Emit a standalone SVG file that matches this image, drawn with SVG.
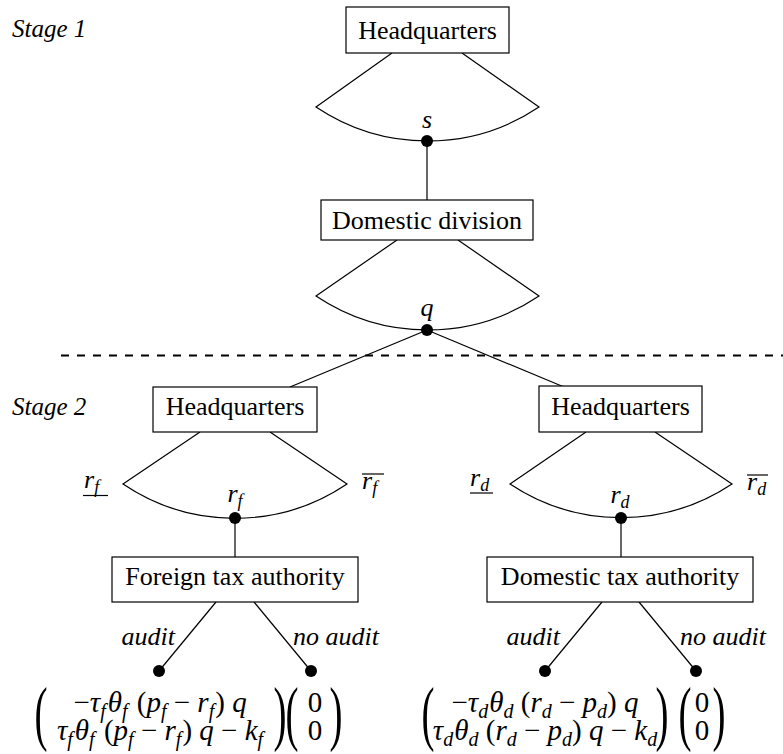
<svg xmlns="http://www.w3.org/2000/svg" width="783" height="754" viewBox="0 0 783 754">
<style>
  .box rect { fill: #fff; stroke: #000; stroke-width: 1.2; }
  .box text { font-size: 26px; text-anchor: middle; fill: #000; }
  .ln { stroke: #000; stroke-width: 1.2; fill: none; }
  .dot { fill: #000; }
  .it { font-style: italic; font-size: 26px; fill: #000; }
  .stage { font-style: italic; font-size: 25px; fill: #000; }
  .m { font-style: italic; font-size: 29px; fill: #000; text-anchor: middle; }
  .u { font-style: normal; }
  .s { font-size: 20px; }
  .ls { font-size: 18px; }
  .par { font-size: 71px; fill: #000; text-anchor: middle; }
  .dash { stroke: #000; stroke-width: 1.8; stroke-dasharray: 8 8; }
</style>
<g font-family="'Liberation Serif', 'Times New Roman', 'DejaVu Serif', serif">
<text class="stage" x="12" y="37">Stage 1</text>
<text class="stage" x="12" y="415">Stage 2</text>
<line class="dash" x1="61" y1="355.5" x2="783" y2="355.5"/>

<g id="connectors">
  <path class="ln" d="M392,53 L316,107 A200,200 0 0 0 539,107 L462,53"/>
  <line class="ln" x1="427" y1="141" x2="427" y2="200"/>
  <path class="ln" d="M397,240 L316,296 A200,200 0 0 0 539,296 L458,240"/>
  <line class="ln" x1="427" y1="330" x2="290" y2="387"/>
  <line class="ln" x1="427" y1="330" x2="564" y2="387"/>
  <path class="ln" d="M200,432 L123,484 A200,200 0 0 0 347,484 L270,432"/>
  <path class="ln" d="M586,432 L510,484 A200,200 0 0 0 732,484 L655,432"/>
  <line class="ln" x1="235" y1="518" x2="235" y2="557"/>
  <line class="ln" x1="621" y1="518" x2="621" y2="557"/>
  <line class="ln" x1="216" y1="602" x2="159" y2="671"/>
  <line class="ln" x1="254" y1="602" x2="311" y2="671"/>
  <line class="ln" x1="602" y1="602" x2="545" y2="671"/>
  <line class="ln" x1="639" y1="602" x2="696" y2="671"/>
  <line class="ln" x1="83" y1="495.5" x2="108" y2="495.5"/>
  <line class="ln" x1="362" y1="474" x2="384" y2="474"/>
  <line class="ln" x1="470" y1="493" x2="493" y2="493"/>
  <line class="ln" x1="747" y1="475" x2="768" y2="475"/>
  <text class="it" x="427" y="128" text-anchor="middle">s</text>
  <text class="it" x="427" y="316" text-anchor="middle">q</text>
  <text class="it" x="235" y="502" text-anchor="middle">r<tspan class="ls" dy="5">f</tspan></text>
  <text class="it" x="84" y="488">r<tspan class="ls" dy="5">f</tspan></text>
  <text class="it" x="362" y="489">r<tspan class="ls" dy="5">f</tspan></text>
  <text class="it" x="620" y="503" text-anchor="middle">r<tspan class="ls" dy="5">d</tspan></text>
  <text class="it" x="470" y="486">r<tspan class="ls" dy="5">d</tspan></text>
  <text class="it" x="747" y="490">r<tspan class="ls" dy="5">d</tspan></text>
  <text class="it" x="175" y="645" text-anchor="end">audit</text>
  <text class="it" x="293" y="645">no audit</text>
  <text class="it" x="560" y="645" text-anchor="end">audit</text>
  <text class="it" x="680" y="645">no audit</text>
</g>

<g id="hq1" class="box"><rect x="346" y="7" width="163" height="46"/><text x="427.5" y="39">Headquarters</text></g>
<g id="dd" class="box"><rect x="321" y="200" width="212" height="40"/><text x="427" y="229">Domestic division</text></g>
<g id="hqf" class="box"><rect x="153" y="387" width="164" height="45"/><text x="235" y="415">Headquarters</text></g>
<g id="hqd" class="box"><rect x="539" y="386" width="163" height="46"/><text x="620.5" y="415">Headquarters</text></g>
<g id="fta" class="box"><rect x="112" y="557" width="246" height="45"/><text x="235" y="585">Foreign tax authority</text></g>
<g id="dta" class="box"><rect x="487" y="557" width="266" height="45"/><text x="620" y="585">Domestic tax authority</text></g>

<g id="dots">
  <circle class="dot" cx="427" cy="141" r="6"/>
  <circle class="dot" cx="427" cy="330" r="6"/>
  <circle class="dot" cx="235" cy="518" r="6"/>
  <circle class="dot" cx="621" cy="518" r="6"/>
  <circle class="dot" cx="159" cy="671" r="6"/>
  <circle class="dot" cx="311" cy="671" r="6"/>
  <circle class="dot" cx="545" cy="671" r="6"/>
  <circle class="dot" cx="696" cy="671" r="6"/>
</g>

<g id="payoff-fa">
  <text class="par" transform="translate(41,737) scale(0.55,1)">(</text>
  <text class="par" transform="translate(280,737) scale(0.55,1)">)</text>
  <text class="m" x="160" y="712"><tspan class="u">−</tspan>τ<tspan class="s" dy="6">f</tspan><tspan dx="2" dy="-6">θ</tspan><tspan class="s" dy="6">f</tspan><tspan class="u" dx="2" dy="-6"> (</tspan>p<tspan class="s" dy="6">f</tspan><tspan class="u" dy="-6"> − </tspan>r<tspan class="s" dy="6">f</tspan><tspan class="u" dx="1" dy="-6">) </tspan>q</text>
  <text class="m" x="160" y="740">τ<tspan class="s" dy="6">f</tspan><tspan dx="2" dy="-6">θ</tspan><tspan class="s" dy="6">f</tspan><tspan class="u" dx="2" dy="-6"> (</tspan>p<tspan class="s" dy="6">f</tspan><tspan class="u" dy="-6"> − </tspan>r<tspan class="s" dy="6">f</tspan><tspan class="u" dx="1" dy="-6">) </tspan>q<tspan class="u"> − </tspan>k<tspan class="s" dy="6">f</tspan></text>
</g>
<g id="payoff-fn">
  <text class="par" transform="translate(292,737) scale(0.55,1)">(</text>
  <text class="par" transform="translate(336,737) scale(0.55,1)">)</text>
  <text class="m u" x="315" y="712">0</text>
  <text class="m u" x="315" y="740">0</text>
</g>
<g id="payoff-da">
  <text class="par" transform="translate(428,737) scale(0.55,1)">(</text>
  <text class="par" transform="translate(662,737) scale(0.55,1)">)</text>
  <text class="m" x="545" y="712"><tspan class="u">−</tspan>τ<tspan class="s" dy="6">d</tspan><tspan dx="1" dy="-6">θ</tspan><tspan class="s" dy="6">d</tspan><tspan class="u" dy="-6"> (</tspan>r<tspan class="s" dy="6">d</tspan><tspan class="u" dy="-6"> − </tspan>p<tspan class="s" dy="6">d</tspan><tspan class="u" dy="-6">) </tspan>q</text>
  <text class="m" x="545" y="740">τ<tspan class="s" dy="6">d</tspan><tspan dx="1" dy="-6">θ</tspan><tspan class="s" dy="6">d</tspan><tspan class="u" dy="-6"> (</tspan>r<tspan class="s" dy="6">d</tspan><tspan class="u" dy="-6"> − </tspan>p<tspan class="s" dy="6">d</tspan><tspan class="u" dy="-6">) </tspan>q<tspan class="u"> − </tspan>k<tspan class="s" dy="6">d</tspan></text>
</g>
<g id="payoff-dn">
  <text class="par" transform="translate(685,737) scale(0.55,1)">(</text>
  <text class="par" transform="translate(719,737) scale(0.55,1)">)</text>
  <text class="m u" x="702" y="712">0</text>
  <text class="m u" x="702" y="740">0</text>
</g>
</g>
</svg>
